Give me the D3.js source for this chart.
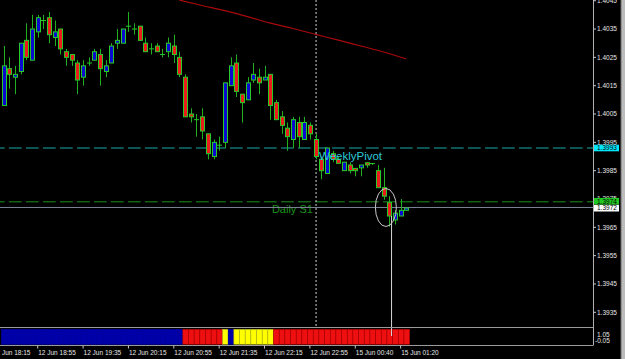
<!DOCTYPE html>
<html>
<head>
<meta charset="utf-8">
<script src="https://cdn.jsdelivr.net/npm/d3@7"></script>
<style>
  body { margin: 0; background: #000; }
  svg { display: block; }
</style>
</head>
<body>
<svg id="chart" width="625" height="359"></svg>
<script>
// --- data (bar 0 = 12 Jun 18:25) ---
const opens  = [1.4008,1.4021,1.4018,1.4020,1.4031,1.4024,1.4034,1.4038,1.4039,1.4032,1.4035,1.4027,1.4026,1.4023,1.4018,1.4023,1.4024,1.4026,1.4020,1.4023,1.4030,1.4030,1.4036,1.4035,
                1.4036,1.4030,1.4028,1.4029,1.4026,1.4027,1.4029,1.4025,1.4018,1.4005,1.4003,1.4004,1.3998,1.3990,1.3994,1.3995,1.4015,1.4023,1.4012,1.4010,1.4017,1.4018,1.4017,1.4019,
                1.4009,1.4004,1.4000,1.3996,1.4002,1.3996,1.4001,1.3996,1.3989,1.3984,1.3991,1.3989,1.3985,1.3987,1.39858,1.3986,1.39878,1.39875,1.3985,1.3979,1.39737,1.39676,1.3969,1.3971];
const highs  = [1.4029,1.4025,1.4022,1.4030,1.4037,1.4040,1.4040,1.4040,1.4041,1.4038,1.4035,1.4028,1.4026,1.4024,1.4024,1.4025,1.4028,1.4028,1.4024,1.4030,1.4035,1.4035,1.4041,1.4037,
                1.4036,1.4032,1.4030,1.4030,1.4028,1.4032,1.4033,1.4027,1.4019,1.4007,1.4005,1.4007,1.3998,1.3996,1.3997,1.4016,1.4025,1.4026,1.4012,1.4018,1.4023,1.4021,1.4022,1.4019,
                1.4010,1.4006,1.4002,1.4004,1.4004,1.4004,1.4002,1.3998,1.3990,1.3993,1.3992,1.3990,1.3988,1.3988,1.39858,1.3987,1.3988,1.39875,1.3987,1.3986,1.3976,1.39711,1.3975,1.39718];
const lows   = [1.4008,1.4014,1.4012,1.4019,1.4024,1.4024,1.4032,1.4035,1.4030,1.4029,1.4026,1.4022,1.4022,1.4012,1.4015,1.4022,1.4024,1.4015,1.4018,1.4023,1.4028,1.4030,1.4034,1.4033,
                1.4031,1.4027,1.4026,1.4027,1.4025,1.4025,1.4023,1.4018,1.4004,1.4002,1.3997,1.3996,1.3989,1.3989,1.3992,1.3993,1.4015,1.4011,1.4002,1.4010,1.4016,1.4012,1.4017,1.4003,
                1.4003,1.3998,1.3992,1.3993,1.3993,1.3996,1.3996,1.3989,1.3982,1.3984,1.3988,1.39876,1.3985,1.3984,1.3983,1.3983,1.3986,1.3987,1.3979,1.39747,1.39652,1.3966,1.3969,1.3971];
const closes = [1.4022,1.4019,1.4019,1.4030,1.4025,1.4035,1.4039,1.4038,1.4033,1.4034,1.4028,1.4025,1.4024,1.4017,1.4022,1.4023,1.4027,1.4021,1.4022,1.4029,1.4031,1.4035,1.4036,1.4035,
                1.4031,1.4027,1.4028,1.4027,1.4026,1.4030,1.4026,1.4019,1.4004,1.4004,1.4003,1.3999,1.3991,1.3995,1.3994,1.4016,1.4022,1.4013,1.4009,1.4016,1.4019,1.4016,1.4018,1.4008,
                1.4003,1.4001,1.3997,1.4003,1.3997,1.4002,1.3998,1.3990,1.3985,1.3993,1.3989,1.39876,1.3988,1.3985,1.3985,1.3987,1.3987,1.39875,1.3979,1.3976,1.3969,1.3970,1.3971,1.39718];

// slow moving average (red line), sampled every 4 bars
const maBars   = [31, 35, 39, 43, 47, 51, 55, 59, 63, 67, 71];
const maValues = [1.40452, 1.40433, 1.40415, 1.40394, 1.40371, 1.40352, 1.40331, 1.40311, 1.4029, 1.40269, 1.40244];

// histogram indicator state per bar: B = blue, R = red, Y = yellow
const indicatorState = [
  'B','B','B','B','B','B','B','B','B','B','B','B','B','B','B','B','B','B','B','B','B','B','B','B',
  'B','B','B','B','B','B','B','B','R','R','R','R','R','R','R','Y','B','Y','Y','Y','Y','Y','Y','Y',
  'R','R','R','R','R','R','R','R','R','R','R','R','R','R','R','R','R','R','R','R','R','R','R','R'
];

const priceTicks = [1.3935,1.3945,1.3955,1.3965,1.3975,1.3985,1.3995,1.4005,1.4015,1.4025,1.4035,1.4045];
const timeTickBars   = [-2, 6, 14, 22, 30, 38, 46, 54, 62, 70];
const timeTickLabels = ['12 Jun 18:15','12 Jun 18:55','12 Jun 19:35','12 Jun 20:15','12 Jun 20:55',
                        '12 Jun 21:35','12 Jun 22:15','12 Jun 22:55','15 Jun 00:40','15 Jun 01:20'];

const pivotPrice = 1.3993, s1Price = 1.3974, bidPrice = 1.3972;
const daySeparatorBar = 55;
const spikeBar = 68.4, spikeTop = 1.3969;
const circleBar = 67.4, circlePrice = 1.3972;
const pivotLabelBar = 55.6, s1LabelBar = 47.3;

// --- layout ---
const W = 625, H = 359;
const plotRight = 593, plotBottom = 327.5;
const indTop = 328, indBottom = 345.5;

const colors = {
  bg: '#000000',
  axis: '#c8c8c8',
  text: '#e6e6e6',
  bullFill: '#0a0ad0',
  bearFill: '#ea1c1c',
  outline: '#28cc28',
  wick: '#20b020',
  ma: '#a80a0a',
  pivot: '#1aa8a8',
  s1: '#1a941a',
  bid: '#7a8294'
};

const svg = d3.select('#chart');
svg.append('rect').attr('width', W).attr('height', H).attr('fill', colors.bg);

const x = d3.scaleLinear().domain([0, 71]).range([3.7, 406.3]);
const y = d3.scaleLinear().domain([1.4045, 1.3935]).range([0.7, 312.3]);
const yi = d3.scaleLinear().domain([-0.05, 1.05]).range([indBottom - 0.5, indTop + 0.5]);
const step = x(1) - x(0);

const plot = svg.append('g');
plot.append('clipPath').attr('id', 'clip')
  .append('rect').attr('width', plotRight).attr('height', plotBottom);
const main = plot.append('g').attr('clip-path', 'url(#clip)');

// level lines
main.append('line')
  .attr('x1', 0).attr('x2', plotRight)
  .attr('y1', y(pivotPrice)).attr('y2', y(pivotPrice))
  .attr('stroke', colors.pivot).attr('stroke-width', 1)
  .attr('stroke-dasharray', '12.7,4.3').attr('stroke-dashoffset', 8);
main.append('line')
  .attr('x1', 0).attr('x2', plotRight)
  .attr('y1', y(s1Price)).attr('y2', y(s1Price))
  .attr('stroke', colors.s1).attr('stroke-width', 1)
  .attr('stroke-dasharray', '12.7,4.3').attr('stroke-dashoffset', 8);

// text objects
main.append('text')
  .attr('x', x(s1LabelBar)).attr('y', y(s1Price) + 11)
  .attr('fill', colors.s1)
  .style('font', '11px "Liberation Sans", Arial, sans-serif')
  .text('Daily S1');

main.append('line')
  .attr('x1', 0).attr('x2', plotRight)
  .attr('y1', y(bidPrice)).attr('y2', y(bidPrice))
  .attr('stroke', colors.bid).attr('stroke-width', 1);

// day separator
main.append('line')
  .attr('x1', x(daySeparatorBar) + 0.5).attr('x2', x(daySeparatorBar) + 0.5)
  .attr('y1', 0).attr('y2', plotBottom)
  .attr('stroke', '#d0d0d0').attr('stroke-width', 1)
  .attr('stroke-dasharray', '2,2');

// moving average
const maLine = d3.line()
  .x((d, i) => x(maBars[i]))
  .y(d => y(d))
  .curve(d3.curveMonotoneX);
main.append('path')
  .datum(maValues)
  .attr('d', maLine)
  .attr('fill', 'none')
  .attr('stroke', colors.ma)
  .attr('stroke-width', 1.2);

// candles
const candles = main.append('g').selectAll('g')
  .data(d3.range(opens.length))
  .join('g');

candles.append('line')
  .attr('x1', i => Math.round(x(i)) + 0.5).attr('x2', i => Math.round(x(i)) + 0.5)
  .attr('y1', i => y(highs[i])).attr('y2', i => y(lows[i]))
  .attr('stroke', colors.wick).attr('stroke-width', 1);

candles.each(function(i) {
  const g = d3.select(this);
  const cx = Math.round(x(i)) + 0.5;
  const top = y(Math.max(opens[i], closes[i]));
  const bot = y(Math.min(opens[i], closes[i]));
  if (bot - top < 1.2) {
    g.append('line')
      .attr('x1', cx - 2.5).attr('x2', cx + 2.5)
      .attr('y1', top).attr('y2', top)
      .attr('stroke', colors.outline).attr('stroke-width', 1);
  } else {
    g.append('rect')
      .attr('x', cx - 2).attr('width', 4)
      .attr('y', top).attr('height', bot - top)
      .attr('fill', closes[i] >= opens[i] ? colors.bullFill : colors.bearFill)
      .attr('stroke', colors.outline).attr('stroke-width', 1);
  }
});

// spike line and circle marker
main.append('line')
  .attr('x1', x(spikeBar)).attr('x2', x(spikeBar))
  .attr('y1', y(spikeTop)).attr('y2', plotBottom)
  .attr('stroke', '#d8d8d8').attr('stroke-width', 1);
main.append('ellipse')
  .attr('cx', x(circleBar)).attr('cy', y(circlePrice))
  .attr('rx', 10.5).attr('ry', 19)
  .attr('fill', 'none').attr('stroke', '#c8c8c8').attr('stroke-width', 1);

main.append('text')
  .attr('x', x(pivotLabelBar)).attr('y', y(pivotPrice) + 11.5)
  .attr('fill', '#2cc8d8')
  .style('font', '11.5px "Liberation Sans", Arial, sans-serif')
  .text('WeeklyPivot');

// indicator window
const ind = svg.append('g');
const indColor = { B: '#0000a8', R: '#ee1010', Y: '#ffff00' };
const indEdge = { B: '#0000a8', R: '#a80000', Y: '#b0b020' };
ind.selectAll('rect')
  .data(indicatorState)
  .join('rect')
  .attr('x', (d, i) => x(i) - step / 2 + 0.5)
  .attr('width', step)
  .attr('y', yi(1))
  .attr('height', yi(0) - yi(1))
  .attr('fill', d => indColor[d])
  .attr('stroke', d => indEdge[d])
  .attr('stroke-width', 0.6);

ind.append('line')
  .attr('x1', x(spikeBar)).attr('x2', x(spikeBar))
  .attr('y1', indTop).attr('y2', 336)
  .attr('stroke', '#d8d8d8').attr('stroke-width', 1);

// frame lines
svg.append('line').attr('x1', 0).attr('x2', plotRight)
  .attr('y1', indTop - 0.5).attr('y2', indTop - 0.5)
  .attr('stroke', '#9a9a9a').attr('stroke-width', 1);
svg.append('line').attr('x1', 0).attr('x2', plotRight)
  .attr('y1', indBottom).attr('y2', indBottom)
  .attr('stroke', '#9a9a9a').attr('stroke-width', 1);
svg.append('line').attr('x1', plotRight + 0.5).attr('x2', plotRight + 0.5)
  .attr('y1', 0).attr('y2', indBottom)
  .attr('stroke', '#b0b0b0').attr('stroke-width', 1);

// price axis
const axisFont = '6.5px "Liberation Sans", Arial, sans-serif';
const pAxis = svg.append('g');
pAxis.selectAll('line')
  .data(priceTicks)
  .join('line')
  .attr('x1', plotRight).attr('x2', plotRight + 3)
  .attr('y1', d => y(d)).attr('y2', d => y(d))
  .attr('stroke', colors.axis);
pAxis.selectAll('text')
  .data(priceTicks)
  .join('text')
  .attr('x', plotRight + 4).attr('y', d => y(d) + 2.3)
  .attr('fill', colors.text)
  .style('font', axisFont)
  .text(d => d.toFixed(4));

// price boxes for levels (the S1 box sits just above the bid box)
const boxes = [
  { price: pivotPrice, fill: '#00e8ff', shift: 0 },
  { price: s1Price, fill: '#22c822', shift: -0.6 },
  { price: bidPrice, fill: '#ffffff', shift: 0.7 }
];
const box = svg.append('g').selectAll('g').data(boxes).join('g');
box.append('rect')
  .attr('x', plotRight + 1).attr('width', 25)
  .attr('y', d => y(d.price) + d.shift - 3.3).attr('height', 6.6)
  .attr('fill', d => d.fill);
box.append('text')
  .attr('x', plotRight + 4).attr('y', d => y(d.price) + d.shift + 2.3)
  .attr('fill', '#000')
  .style('font', axisFont)
  .text(d => d.price.toFixed(4));

// indicator scale labels
svg.append('text').attr('x', plotRight + 4).attr('y', 337)
  .attr('fill', colors.text).style('font', axisFont).text('1.05');
svg.append('text').attr('x', plotRight + 2).attr('y', 343)
  .attr('fill', colors.text).style('font', axisFont).text('-0.05');

// time axis
const tAxis = svg.append('g');
tAxis.selectAll('line')
  .data(timeTickBars)
  .join('line')
  .attr('x1', d => x(d)).attr('x2', d => x(d))
  .attr('y1', indBottom).attr('y2', indBottom + 3)
  .attr('stroke', colors.axis);
tAxis.selectAll('text')
  .data(timeTickBars)
  .join('text')
  .attr('x', d => x(d) + 0.5).attr('y', 354.5)
  .attr('fill', colors.text)
  .style('font', axisFont)
  .text((d, i) => timeTickLabels[i]);

// scrollbar strip at the right edge
svg.append('rect').attr('x', 621).attr('y', 0).attr('width', 4).attr('height', H).attr('fill', '#bcbcbc');
svg.append('line').attr('x1', 621).attr('x2', 621).attr('y1', 0).attr('y2', H).attr('stroke', '#6a6a6a');
</script>
</body>
</html>
